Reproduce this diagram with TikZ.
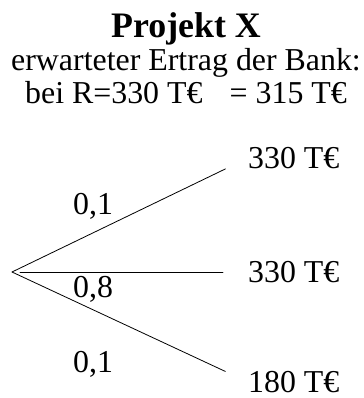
\documentclass[tikz,border=0pt]{standalone}
\usepackage{fontspec}
\setmainfont{Liberation Serif}
\begin{document}
\begin{tikzpicture}[x=1bp, y=-1bp, line join=round, line cap=round, font=\fontsize{32}{33}\selectfont,
		leaf/.style={anchor=west, inner sep=0pt},
		prob/.style={anchor=base west, inner sep=0pt},
		branch/.style={black, line width=0.8bp}]
	\useasboundingbox (0,0) rectangle (364,398);
	
	% Kopf
	\node[font=\fontsize{36}{36}\selectfont\bfseries, anchor=base] (titel) at (186,37) {Projekt X};
	\node[anchor=base] (zeile1) at (186,70) {erwarteter Ertrag der Bank:};
	\node[anchor=base] (zeile2) at (186,103) {bei R=330 T€\hspace{0.6em} = 315 T€};
	
	% Baum
	\coordinate (wurzel) at (12,272);
	\node[leaf] (oben) at (248,158) {330 T€};
	\node[leaf] (mitte) at (248,272) {330 T€};
	\node[leaf] (unten) at (248,382) {180 T€};
	
	\draw[branch, shorten >=25bp] (wurzel) -- (oben.west);
	\draw[branch, shorten <=8bp, shorten >=25bp] (wurzel) -- (mitte.west);
	\draw[branch, shorten >=25bp] (wurzel) -- (unten.west);
	
	\node[prob] (p1) at (73,214) {0,1};
	\node[prob] (p2) at (73,297) {0,8};
	\node[prob] (p3) at (73,372) {0,1};
\end{tikzpicture}
\end{document}
